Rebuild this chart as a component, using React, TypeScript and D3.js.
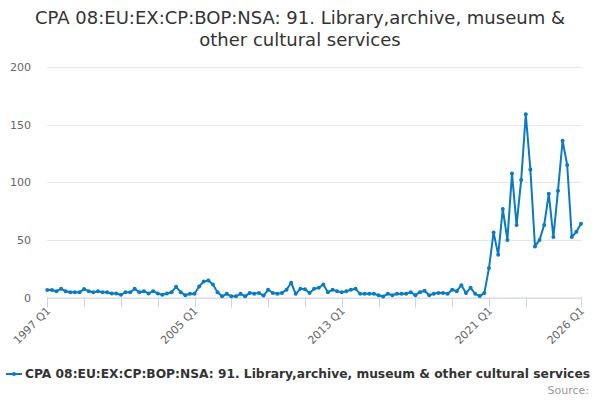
import { useRef, useEffect } from 'react'
import * as d3 from 'd3'

const title = ['CPA 08:EU:EX:CP:BOP:NSA: 91. Library,archive, museum &', 'other cultural services']
const seriesName = 'CPA 08:EU:EX:CP:BOP:NSA: 91. Library,archive, museum & other cultural services'
const startYear = 1997
const values = [
  6.4, 6.5, 5.5, 7.5, 5.5, 4.6, 4.6, 4.6, 7.3, 5.5, 4.6, 5.5, 4.6, 4.6, 3.5, 3.5,
  2.3, 4.6, 4.6, 7.5, 4.6, 5.5, 3.5, 5.5, 3.5, 2.3, 3.5, 4.6, 9.3, 4.6, 2, 3.2,
  3.2, 9.6, 13.9, 14.8, 11.3, 4.6, 1, 3.2, 1, 1, 3.2, 1, 4, 3.2, 4, 1.7,
  6.7, 4, 3.2, 4, 6.7, 12.8, 3.2, 7.5, 7.2, 4, 7.5, 8.4, 11.3, 4.6, 6.7, 5.5,
  4.6, 5.5, 6.7, 7.5, 3.2, 3.2, 3.2, 3.2, 2, 0.9, 3.2, 2, 3.2, 3.2, 3.2, 4.6,
  2, 4.6, 5.8, 2, 3.2, 4, 4, 3.2, 6.7, 5.5, 10.7, 4, 8.4, 3.2, 1.2, 4,
  25.5, 56.5, 37, 76.8, 50, 107.5, 63, 102, 159, 111, 44.3, 50, 63, 90, 52.5, 92.7,
  136, 115, 52.5, 57, 64,
]
const quarters = values.map((_, i) => `${startYear + Math.floor(i / 4)} Q${(i % 4) + 1}`)
const yTicks = [0, 50, 100, 150, 200]
const xTickIdx = [0, 8, 16, 24, 32, 40, 48, 56, 64, 72, 80, 88, 96, 104, 116]
const xLabelIdx = [0, 32, 64, 96, 116]

const App = () => {
  const ref = useRef<SVGSVGElement>(null)

  useEffect(() => {
    if (!ref.current) return
    const svg = d3.select(ref.current)
    svg.selectAll('*').remove()
    const font = '"DejaVu Sans", sans-serif'
    const color = '#0a7bc1'
    const left = 47.3
    const right = 581
    const top = 67
    const bottom = 297.5

    const x = d3.scaleLinear().domain([0, values.length - 1]).range([left, right])
    const y = d3.scaleLinear().domain([0, 200]).range([bottom, top])

    svg.append('text')
      .attr('x', 300).attr('y', 0)
      .attr('text-anchor', 'middle')
      .attr('font-family', font).attr('font-size', 18).attr('fill', '#333')
      .selectAll('tspan').data(title).enter().append('tspan')
      .attr('x', 300).attr('y', (_, i) => 24 + i * 22)
      .text(d => d)

    const grid = svg.append('g')
    grid.selectAll('line').data(yTicks).enter().append('line')
      .attr('x1', left).attr('x2', right + 1)
      .attr('y1', d => Math.round(y(d)) + 0.5).attr('y2', d => Math.round(y(d)) + 0.5)
      .attr('stroke', '#e6e6e6')
    grid.selectAll('text').data(yTicks).enter().append('text')
      .attr('x', 31).attr('y', d => y(d) + 4)
      .attr('text-anchor', 'end')
      .attr('font-family', font).attr('font-size', 11).attr('fill', '#666')
      .text(d => d)

    svg.append('line')
      .attr('x1', left).attr('x2', right + 1)
      .attr('y1', bottom + 0.5).attr('y2', bottom + 0.5)
      .attr('stroke', '#ccd6eb')
    svg.append('g').selectAll('line').data(xTickIdx).enter().append('line')
      .attr('x1', d => Math.round(x(d)) + 0.5).attr('x2', d => Math.round(x(d)) + 0.5)
      .attr('y1', bottom).attr('y2', bottom + 10)
      .attr('stroke', '#ccd6eb')
    svg.append('g').selectAll('text').data(xLabelIdx).enter().append('text')
      .attr('transform', d => `translate(${x(d) + 4},${bottom + 14}) rotate(-45)`)
      .attr('text-anchor', 'end')
      .attr('font-family', font).attr('font-size', 11).attr('fill', '#666')
      .text(d => quarters[d])

    const line = d3.line<number>().x((_, i) => x(i)).y(d => y(d))
    svg.append('path')
      .datum(values)
      .attr('d', line)
      .attr('fill', 'none').attr('stroke', color).attr('stroke-width', 2)
      .attr('stroke-linejoin', 'round')
    svg.append('g').selectAll('circle').data(values).enter().append('circle')
      .attr('cx', (_, i) => x(i)).attr('cy', d => y(d)).attr('r', 2)
      .attr('fill', color)

    const lg = svg.append('g')
    lg.append('line').attr('x1', 6).attr('x2', 22).attr('y1', 374).attr('y2', 374)
      .attr('stroke', color).attr('stroke-width', 2)
    lg.append('circle').attr('cx', 14).attr('cy', 374).attr('r', 2).attr('fill', color)
    lg.append('text').attr('x', 25).attr('y', 378)
      .attr('font-family', font).attr('font-size', 12.25).attr('font-weight', 'bold').attr('fill', '#333')
      .text(seriesName)

    svg.append('text').attr('x', 589).attr('y', 394)
      .attr('text-anchor', 'end')
      .attr('font-family', font).attr('font-size', 11).attr('fill', '#999')
      .text('Source:')
  }, [])

  return (
    <svg ref={ref} width={600} height={400} style={{ position: 'absolute', left: 0, top: 0, background: '#fff' }} />
  )
}

export default App
